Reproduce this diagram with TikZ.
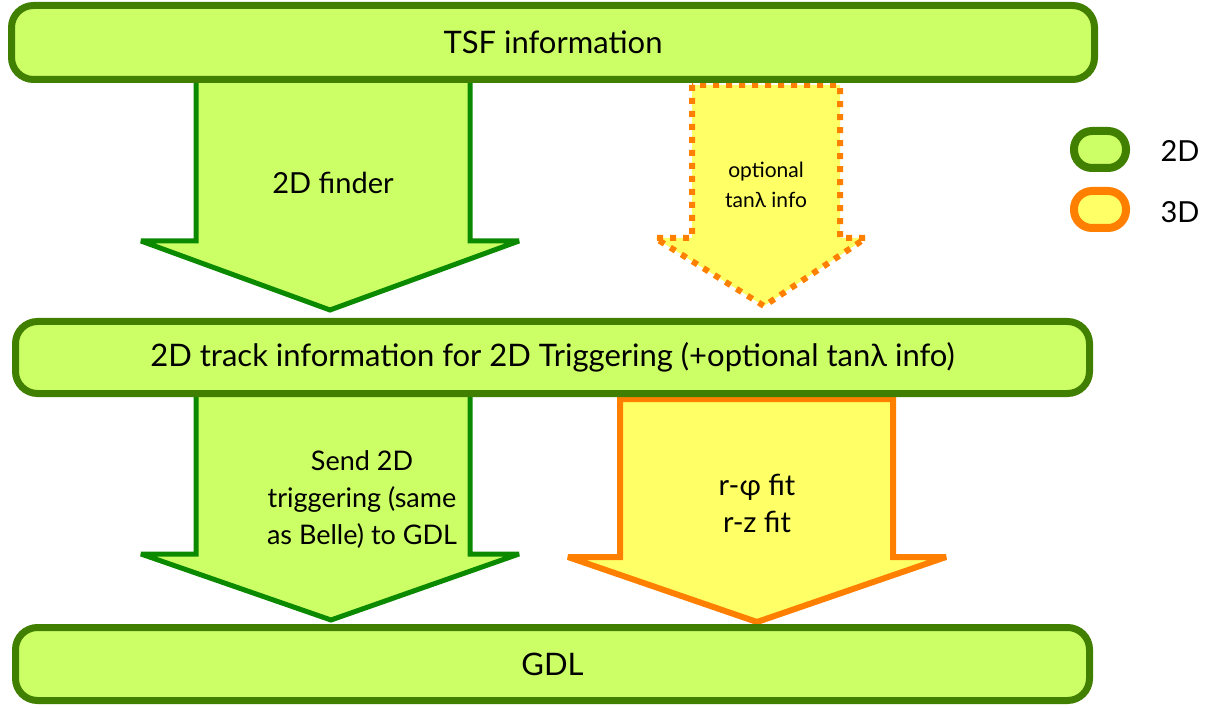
\documentclass[tikz,border=0pt]{standalone}
\usepackage{fontspec}
\setmainfont{Lato}
\definecolor{boxfill}{HTML}{CCFF66}
\definecolor{boxborder}{HTML}{417F00}
\definecolor{arrowgreen}{HTML}{0B8A00}
\definecolor{yfill}{HTML}{FFFF66}
\definecolor{orng}{HTML}{FF8000}
\begin{document}
\begin{tikzpicture}[x=1pt,y=-1pt,
  box/.style={draw=boxborder, line width=7pt, fill=boxfill, rounded corners=22pt, inner sep=0pt},
  greenarrow/.style={draw=arrowgreen, line width=5pt, fill=boxfill, line join=miter, miter limit=3},
  orangearrow/.style={draw=orng, line width=6pt, fill=yfill, line join=miter, miter limit=3},
  dotarrow/.style={draw=orng, line width=6pt, fill=yfill, dash pattern=on 6pt off 7pt},
  big/.style={font=\fontsize{31}{37}\selectfont, align=center, text=black},
  mid/.style={font=\fontsize{29}{37}\selectfont, align=center, text=black},
  small/.style={font=\fontsize{21}{30}\selectfont, align=center, text=black},
  leg2d/.style={draw=boxborder, line width=8pt, fill=boxfill, rounded corners=18pt, minimum width=52pt, minimum height=37pt, inner sep=0pt},
  leg3d/.style={draw=orng, line width=8pt, fill=yfill, rounded corners=18pt, minimum width=52pt, minimum height=37pt, inner sep=0pt}]
\useasboundingbox (0,0) rectangle (1215,708);
% arrows
\draw[greenarrow] (196,78) -- (196,241) -- (141,241) -- (330,310) -- (519,241) -- (470,241) -- (470,78) -- cycle;
\draw[dotarrow] (692,85) -- (692,238) -- (655,238) -- (764,306) -- (866,238) -- (840,238) -- (840,85) -- cycle;
\draw[greenarrow] (196,392) -- (196,554) -- (141,554) -- (331,620) -- (519,554) -- (470,554) -- (470,392) -- cycle;
\draw[orangearrow] (620,399) -- (620,557) -- (568,557) -- (757,622) -- (946,557) -- (893,557) -- (893,399) -- cycle;
% boxes
\node[box, minimum width=1083pt, minimum height=74pt] (tsf) at (553,42.5) {};
\node[big] (tsftext) at (tsf.center) {TSF information};
\node[box, minimum width=1074pt, minimum height=72pt] (track) at (552.5,357.5) {};
\node[big] (tracktext) at (track.center) {2D track information for 2D Triggering (+optional tanλ info)};
\node[box, minimum width=1074pt, minimum height=73pt] (gdl) at (552.5,664) {};
\node[big] (gdltext) at (gdl.center) {GDL};
% arrow labels
\node[mid] (finder) at (333,183) {2D finder};
\node[small] (opt) at (766,185) {optional\\tanλ info};
\node[font=\fontsize{27}{37}\selectfont, align=center] (send) at (362,500) {Send 2D\\triggering (same\\as Belle) to GDL};
\node[mid] (fit) at (757,503) {r-φ fit\\r-z fit};
% legend
\node[leg2d] (l2) at (1100,149.5) {};
\node[mid, anchor=west] (l2t) at (1157,151) {2D};
\node[leg3d] (l3) at (1100,209.5) {};
\node[mid, anchor=west] (l3t) at (1157,212) {3D};
\end{tikzpicture}
\end{document}
